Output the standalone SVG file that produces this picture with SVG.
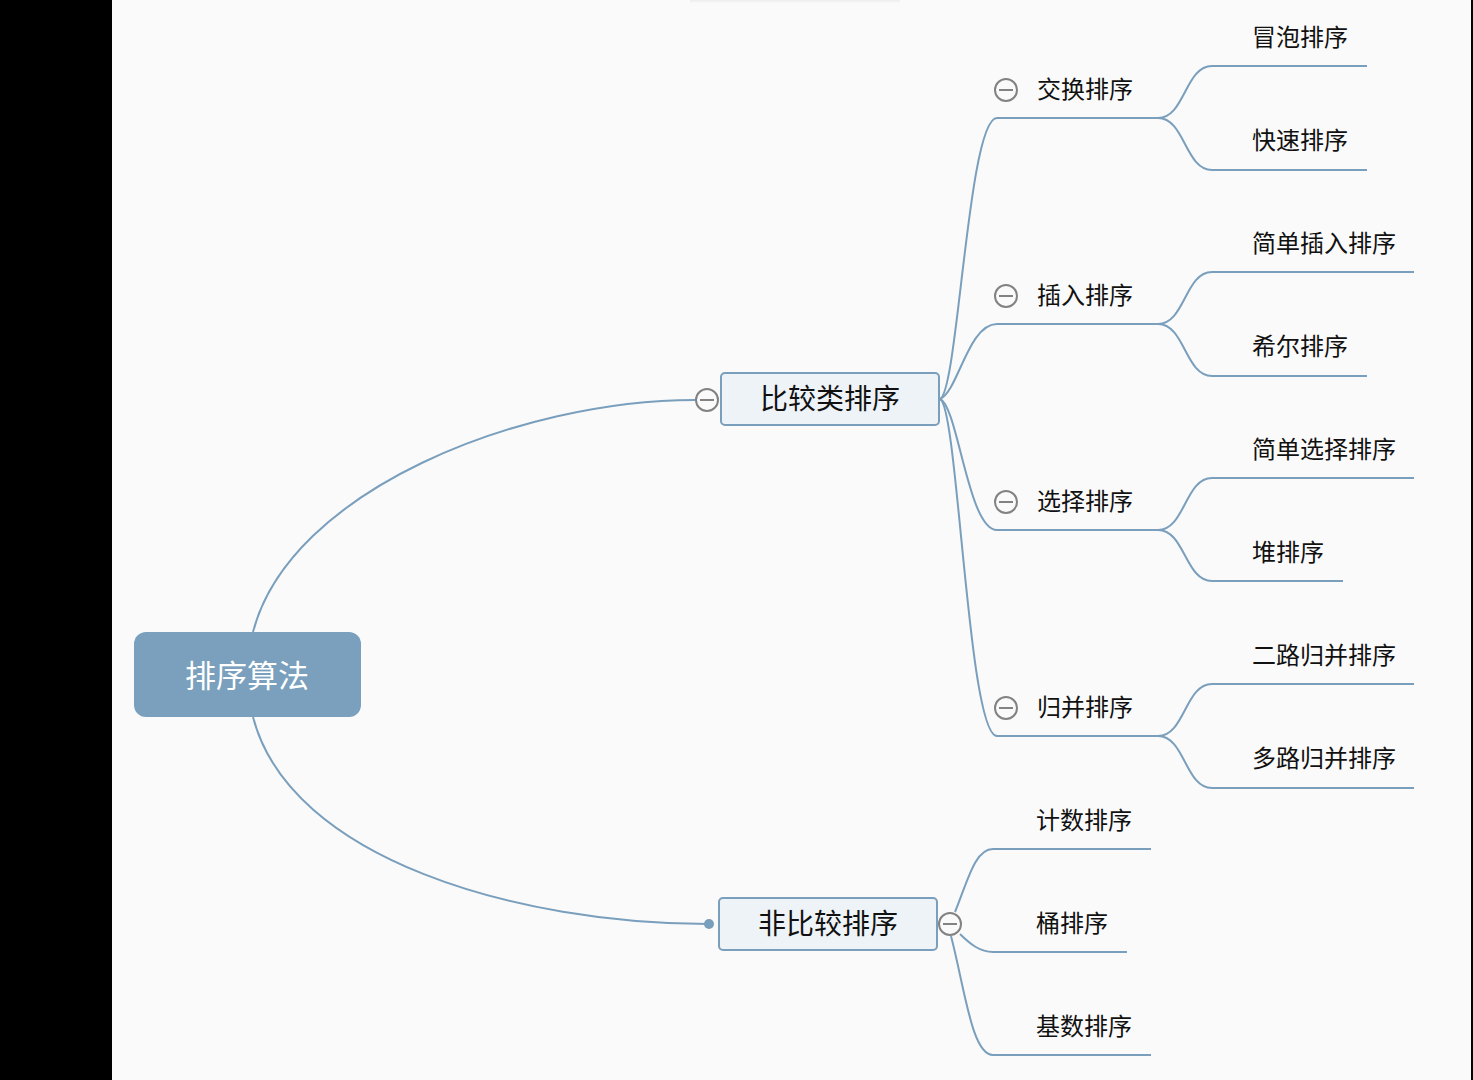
<svg xmlns="http://www.w3.org/2000/svg" width="1473" height="1080" viewBox="0 0 1473 1080">
<defs>
<style>
.bg{fill:#fafafa}
.ln{fill:none;stroke:#7a9fbd;stroke-width:2}
.t{font-family:"Noto Sans CJK SC","Microsoft YaHei",sans-serif;fill:#111}
.s{font-size:24px}
.m{font-size:28px;text-anchor:middle}
.r{font-size:31px;text-anchor:middle;fill:#fff}
.box{fill:#eef3f8;stroke:#7a9fbd;stroke-width:2}
.cc{fill:#fafafa;stroke:#828282;stroke-width:2}
.cl{stroke:#828282;stroke-width:2}
</style>
<linearGradient id="sh" x1="0" y1="0" x2="0" y2="1">
<stop offset="0" stop-color="#ececec"/>
<stop offset="1" stop-color="#fafafa"/>
</linearGradient>
</defs>
<rect x="0" y="0" width="1473" height="1080" fill="#000"/>
<rect class="bg" x="112" y="0" width="1359" height="1080"/>
<rect x="690" y="0" width="210" height="3" fill="url(#sh)"/>

<g id="connectors">
<path class="ln" d="M253,632 C290,490 520,400 695,400"/>
<path class="ln" d="M253,717 C290,860 520,924 708,924"/>
<path class="ln" d="M940,399 C958,392 968,118 997,118 L1158,118"/>
<path class="ln" d="M940,399 C958,392 968,324 997,324 L1158,324"/>
<path class="ln" d="M940,399 C958,406 968,530 997,530 L1158,530"/>
<path class="ln" d="M940,399 C958,406 968,736 997,736 L1158,736"/>
<path class="ln" d="M1158,118 C1185,118 1185,66 1212,66 L1367,66"/>
<path class="ln" d="M1158,118 C1185,118 1185,170 1212,170 L1367,170"/>
<path class="ln" d="M1158,324 C1185,324 1185,272 1212,272 L1414,272"/>
<path class="ln" d="M1158,324 C1185,324 1185,376 1212,376 L1367,376"/>
<path class="ln" d="M1158,530 C1185,530 1185,478 1212,478 L1414,478"/>
<path class="ln" d="M1158,530 C1185,530 1185,581 1212,581 L1343,581"/>
<path class="ln" d="M1158,736 C1185,736 1185,684 1212,684 L1414,684"/>
<path class="ln" d="M1158,736 C1185,736 1185,788 1212,788 L1414,788"/>
<path class="ln" d="M955,912 C968,880 975,849 993,849 L1151,849"/>
<path class="ln" d="M960,934 C970,944 980,952 993,952 L1127,952"/>
<path class="ln" d="M951,936 C965,990 972,1055 993,1055 L1151,1055"/>
<circle cx="709" cy="924" r="5" fill="#7a9fbd"/>
</g>

<g id="root">
<rect x="134" y="632" width="227" height="85" rx="12" fill="#7aa0bd"/>
<text class="t r" x="247" y="687">排序算法</text>
</g>

<g id="compare">
<rect class="box" x="721" y="373" width="218" height="52" rx="4"/>
<text class="t m" x="830" y="409">比较类排序</text>
<circle class="cc" cx="707" cy="400" r="11"/>
<line class="cl" x1="700" y1="400" x2="714" y2="400"/>
</g>

<g id="noncompare">
<rect class="box" x="719" y="898" width="218" height="52" rx="4"/>
<text class="t m" x="828" y="934">非比较排序</text>
<circle class="cc" cx="950" cy="924" r="11"/>
<line class="cl" x1="943" y1="924" x2="957" y2="924"/>
</g>

<g id="exchange">
<circle class="cc" cx="1006" cy="90" r="11"/>
<line class="cl" x1="999" y1="90" x2="1013" y2="90"/>
<text class="t s" x="1037" y="98">交换排序</text>
</g>
<g id="insert">
<circle class="cc" cx="1006" cy="296" r="11"/>
<line class="cl" x1="999" y1="296" x2="1013" y2="296"/>
<text class="t s" x="1037" y="304">插入排序</text>
</g>
<g id="select">
<circle class="cc" cx="1006" cy="502" r="11"/>
<line class="cl" x1="999" y1="502" x2="1013" y2="502"/>
<text class="t s" x="1037" y="510">选择排序</text>
</g>
<g id="merge">
<circle class="cc" cx="1006" cy="708" r="11"/>
<line class="cl" x1="999" y1="708" x2="1013" y2="708"/>
<text class="t s" x="1037" y="716">归并排序</text>
</g>

<g id="bubble"><text class="t s" x="1252" y="46">冒泡排序</text></g>
<g id="quick"><text class="t s" x="1252" y="149">快速排序</text></g>
<g id="simpleinsert"><text class="t s" x="1252" y="252">简单插入排序</text></g>
<g id="shell"><text class="t s" x="1252" y="355">希尔排序</text></g>
<g id="simpleselect"><text class="t s" x="1252" y="458">简单选择排序</text></g>
<g id="heap"><text class="t s" x="1252" y="561">堆排序</text></g>
<g id="twoway"><text class="t s" x="1252" y="664">二路归并排序</text></g>
<g id="multiway"><text class="t s" x="1252" y="767">多路归并排序</text></g>
<g id="counting"><text class="t s" x="1036" y="829">计数排序</text></g>
<g id="bucket"><text class="t s" x="1036" y="932">桶排序</text></g>
<g id="radix"><text class="t s" x="1036" y="1035">基数排序</text></g>
</svg>
